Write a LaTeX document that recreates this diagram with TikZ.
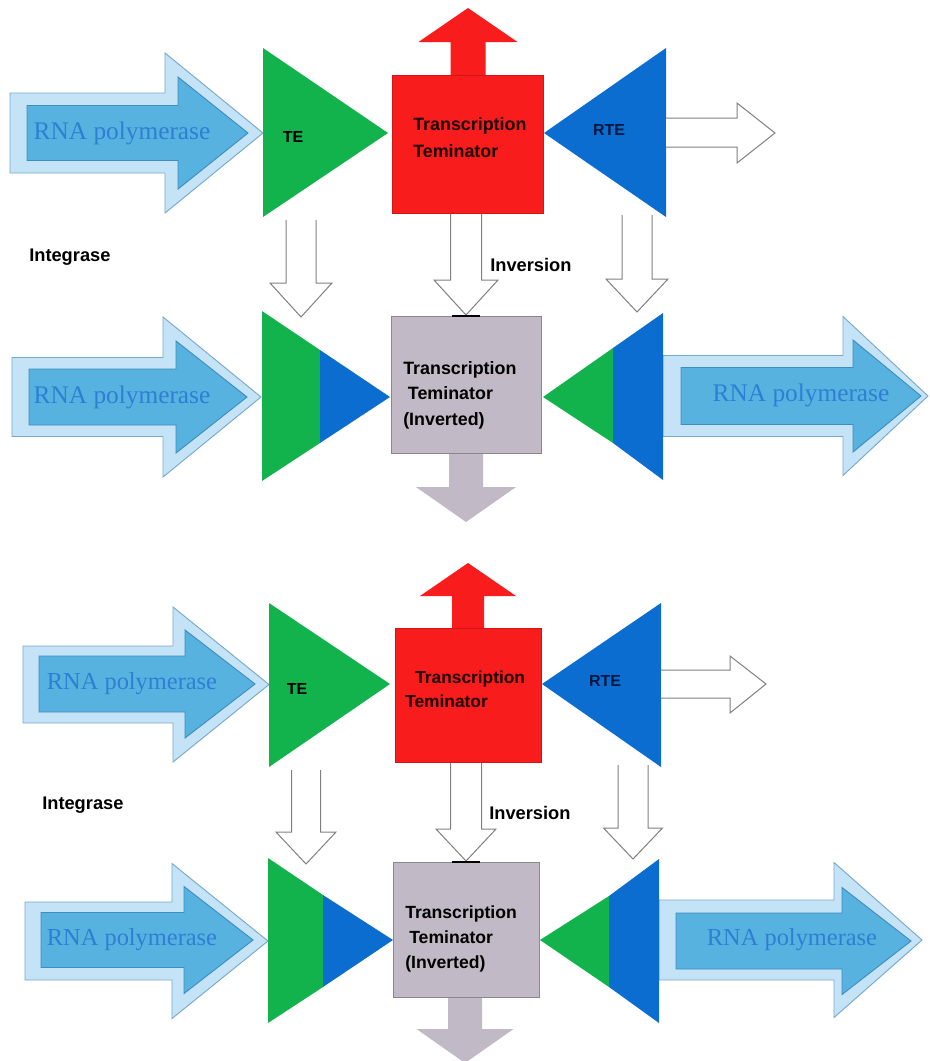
\documentclass[tikz,border=0pt]{standalone}
\usepackage{fontspec}
\setmainfont{Liberation Serif}
\setsansfont{Liberation Sans}

\definecolor{rnaLight}{HTML}{C4E3F6}
\definecolor{rnaLightEdge}{HTML}{78A9CC}
\definecolor{rnaMid}{HTML}{58B2E0}
\definecolor{rnaMidEdge}{HTML}{3F8CBF}
\definecolor{rnaInk}{HTML}{2E7FD3}
\definecolor{teGreen}{HTML}{12B24C}
\definecolor{rteBlue}{HTML}{0B6DD0}
\definecolor{termRed}{HTML}{F81C1C}
\definecolor{termRedEdge}{HTML}{D01616}
\definecolor{termInk}{HTML}{1E0202}
\definecolor{invGrey}{HTML}{C1B9C6}
\definecolor{invGreyEdge}{HTML}{8C8590}
\definecolor{hollowEdge}{HTML}{808080}
\definecolor{rteInk}{HTML}{02173F}

% right-pointing block arrow: shaft x1..x2, head x2..x3, centre y, half shaft, half head
\newcommand\blockRight[7]{%
  \path[#7] (#1,{#4-#5}) -- (#2,{#4-#5}) -- (#2,{#4-#6}) -- (#3,#4)
    -- (#2,{#4+#6}) -- (#2,{#4+#5}) -- (#1,{#4+#5}) -- cycle;}
% vertical block arrow: centre x, shaft y1..y2, tip y3, half shaft, half head
\newcommand\blockVert[7]{%
  \path[#7] ({#1-#5},#2) -- ({#1-#5},#3) -- ({#1-#6},#3) -- (#1,#4)
    -- ({#1+#6},#3) -- ({#1+#5},#3) -- ({#1+#5},#2) -- cycle;}
% open-topped outline arrow pointing down
\newcommand\hollowDown[6]{%
  \draw[hollow] ({#1-#5},#2) -- ({#1-#5},#3) -- ({#1-#6},#3) -- (#1,#4)
    -- ({#1+#6},#3) -- ({#1+#5},#3) -- ({#1+#5},#2);}

\begin{document}
\begin{tikzpicture}[x=0.75pt,y=-0.75pt,
  outerarrow/.style={fill=rnaLight,draw=rnaLightEdge,line width=0.7pt,line join=miter},
  innerarrow/.style={fill=rnaMid,draw=rnaMidEdge,line width=0.7pt,line join=miter},
  hollow/.style={draw=hollowEdge,line width=0.75pt,fill=white},
  redfill/.style={fill=termRed},
  redbox/.style={fill=termRed,draw=termRedEdge,line width=0.6pt},
  greyfill/.style={fill=invGrey},
  greybox/.style={fill=invGrey,draw=invGreyEdge,line width=0.7pt},
  rnatext/.style={text=rnaInk,inner sep=0pt,font=\rmfamily\fontsize{19}{22}\selectfont},
  rnatextsm/.style={text=rnaInk,inner sep=0pt,font=\rmfamily\fontsize{18.3}{21}\selectfont},
  tagtext/.style={inner sep=0pt,font=\sffamily\bfseries\fontsize{12}{14}\selectfont},
  sidetext/.style={inner sep=0pt,anchor=west,font=\sffamily\bfseries\fontsize{13.7}{16}\selectfont},
  termtext/.style={inner sep=0pt,anchor=west,align=left,text=termInk},
  invtext/.style={inner sep=0pt,anchor=west,align=left,text=black},
  tick/.style={draw=black,line width=1.1pt}
]
\fill[white] (0,0) rectangle (929,1061);
\useasboundingbox (0,0) rectangle (929,1061);

%% ---------------- first panel, upper row ----------------
\blockRight{10}{165}{263}{133}{40}{80}{outerarrow}
\blockRight{27}{178}{248}{133}{27.5}{56}{innerarrow}
\node[rnatext] (rnaA) at (122,133) {RNA polymerase};
\fill[teGreen] (263,48) -- (263,217) -- (388,133) -- cycle;
\node[tagtext] (teA) at (293,137) {TE};
\blockVert{468}{76}{42}{8}{17.5}{49.5}{redfill}
\path[redbox] (392,75) rectangle (543,213);
\node[termtext,font=\sffamily\bfseries\fontsize{13.4}{20.2}\selectfont] (termA) at (413,137.5) {Transcription\\Teminator};
\fill[rteBlue] (666,48) -- (666,217) -- (544,133) -- cycle;
\node[tagtext,text=rteInk] (rteA) at (609,130) {RTE};
\draw[hollow] (666,118) -- (737,118) -- (737,103) -- (775,133) -- (737,163) -- (737,147) -- (666,147);

% recombination arrows
\hollowDown{301}{220}{283}{317}{15}{31}
\hollowDown{466}{214}{280}{315}{15.5}{32}
\hollowDown{637}{215}{279}{312}{15}{31}
\node[sidetext] (intA) at (29,257) {Integrase};
\node[sidetext] (invA) at (490,265) {Inversion};

%% ---------------- first panel, lower row ----------------
\blockRight{12}{163}{261}{397}{39.5}{80}{outerarrow}
\blockRight{29}{176}{247}{397}{28}{56}{innerarrow}
\node[rnatext] (rnaB) at (122,397) {RNA polymerase};
\fill[teGreen] (262,311) -- (262,481) -- (320,443) -- (320,350) -- cycle;
\fill[rteBlue] (320,350) -- (320,443) -- (390,397) -- cycle;
\blockVert{466}{452}{487}{522}{17}{50}{greyfill}
\path[greybox] (391,316) rectangle (541,453);
\draw[tick] (452,316) -- (480,316);
\node[invtext,font=\sffamily\bfseries\fontsize{13.4}{19.1}\selectfont] (termB) at (403,395) {Transcription\\\hspace{3.5pt}Teminator\\(Inverted)};
\blockRight{663}{843}{928}{396}{40.5}{79.5}{outerarrow}
\blockRight{681}{853}{921}{396}{28.5}{56}{innerarrow}
\node[rnatext] (rnaB2) at (801,395) {RNA polymerase};
\fill[rteBlue] (663,313) -- (663,480) -- (613,443) -- (613,348) -- cycle;
\fill[teGreen] (613,348) -- (613,443) -- (543,397) -- cycle;

%% ---------------- second panel, upper row ----------------
\blockRight{23}{173}{269}{684.5}{38.5}{77.5}{outerarrow}
\blockRight{39}{185}{255}{684}{28}{54}{innerarrow}
\node[rnatextsm] (rnaC) at (132,684) {RNA polymerase};
\fill[teGreen] (269,603) -- (269,767) -- (390,684) -- cycle;
\node[tagtext] (teC) at (297,689) {TE};
\blockVert{468}{629}{596}{563}{16}{48}{redfill}
\path[redbox] (395,628) rectangle (541,762);
\node[termtext,font=\sffamily\bfseries\fontsize{13}{18}\selectfont] (termC) at (405,689) {\hspace{7.5pt}Transcription\\Teminator};
\fill[rteBlue] (661,603) -- (661,767) -- (542,684) -- cycle;
\node[tagtext,text=rteInk] (rteC) at (605,681) {RTE};
\draw[hollow] (661,670) -- (730,670) -- (730,656) -- (766,684) -- (730,713) -- (730,698) -- (661,698);

% recombination arrows
\hollowDown{306}{770}{832}{864}{14.5}{30}
\hollowDown{466}{763}{829}{861}{15.5}{30}
\hollowDown{633}{765}{828}{859}{15}{29.5}
\node[sidetext] (intC) at (42,805) {Integrase};
\node[sidetext] (invC) at (489,813) {Inversion};

%% ---------------- second panel, lower row ----------------
\blockRight{25}{172}{268}{941}{39}{77.5}{outerarrow}
\blockRight{41}{184}{253}{940}{27.5}{53.5}{innerarrow}
\node[rnatextsm] (rnaD) at (132,940) {RNA polymerase};
\fill[teGreen] (268,858) -- (268,1023) -- (323,987) -- (323,895) -- cycle;
\fill[rteBlue] (323,895) -- (323,987) -- (393,940) -- cycle;
\blockVert{465}{996}{1029}{1063}{17}{48.5}{greyfill}
\path[greybox] (393,862) rectangle (539,997);
\draw[tick] (452,862) -- (480,862);
\node[invtext,font=\sffamily\bfseries\fontsize{13.2}{18.8}\selectfont] (termD) at (405,939) {Transcription\\\hspace{3pt}Teminator\\(Inverted)};
\blockRight{659}{834}{922}{940}{40}{77.5}{outerarrow}
\blockRight{676}{842}{911}{941}{28}{53.5}{innerarrow}
\node[rnatextsm] (rnaD2) at (792,940) {RNA polymerase};
\fill[rteBlue] (659,859) -- (659,1023) -- (609,987) -- (609,896) -- cycle;
\fill[teGreen] (609,896) -- (609,987) -- (540,940) -- cycle;
\end{tikzpicture}
\end{document}
